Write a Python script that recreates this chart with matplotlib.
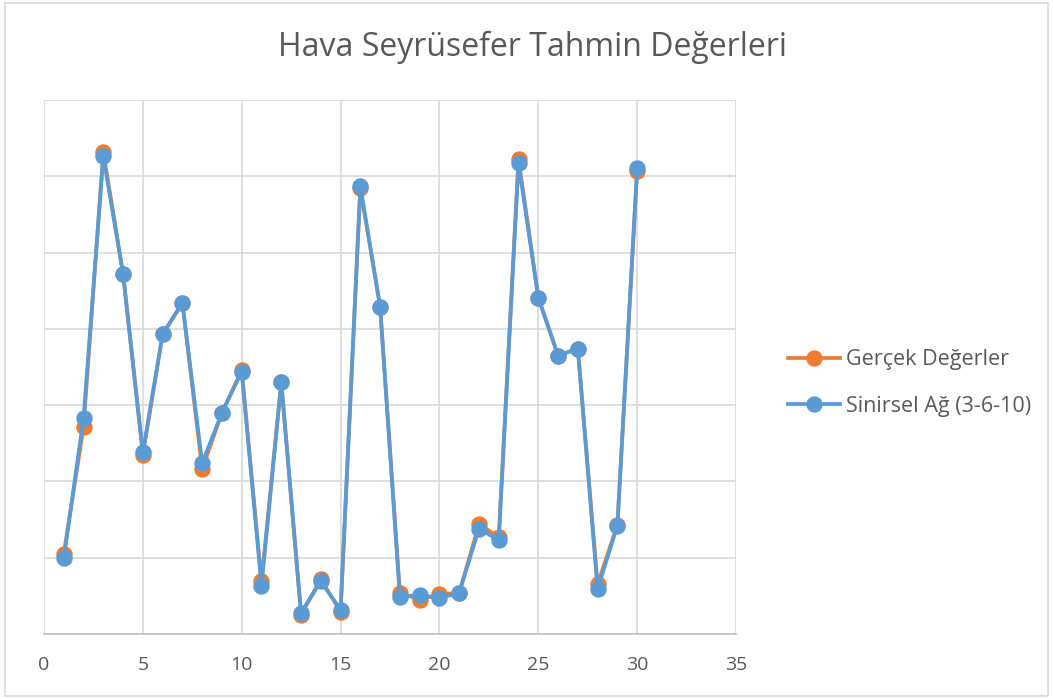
import matplotlib.pyplot as plt
from matplotlib.patches import Rectangle

# x positions (sample index) and values in gridline units (y axis has no labels)
sample = list(range(1, 31))
gercek = [1.05, 2.71, 6.32, 4.72, 2.35, 3.93, 4.34, 2.16, 2.90, 3.46,
          0.69, 3.30, 0.25, 0.72, 0.29, 5.84, 4.29, 0.54, 0.45, 0.52,
          0.54, 1.44, 1.27, 6.23, 4.41, 3.65, 3.74, 0.65, 1.43, 6.07]
sinirsel = [0.99, 2.83, 6.26, 4.72, 2.38, 3.93, 4.34, 2.24, 2.90, 3.44,
            0.63, 3.30, 0.28, 0.69, 0.32, 5.87, 4.29, 0.49, 0.51, 0.47,
            0.54, 1.38, 1.23, 6.17, 4.41, 3.65, 3.74, 0.59, 1.42, 6.11]

plt.rcParams['font.family'] = ['Open Sans', 'DejaVu Sans']

fig = plt.figure(figsize=(10.53, 6.99), dpi=100)
ax = fig.add_axes([44 / 1053, 1 - 634 / 699, (736 - 44) / 1053, (634 - 100) / 699])

ax.plot(sample, gercek, color='#ED7D31', lw=2.7, marker='o', ms=10.8,
        label='Gerçek Değerler', zorder=3)
ax.plot(sample, sinirsel, color='#5B9BD5', lw=2.7, marker='o', ms=10.8,
        label='Sinirsel Ağ (3-6-10)', zorder=4)

ax.set_xlim(0, 35)
ax.set_ylim(0, 7)
ax.set_xticks(range(0, 36, 5))
ax.set_yticks(range(0, 8))
ax.set_yticklabels([])
ax.grid(True, color='#D9D9D9', lw=1.2, zorder=0)
ax.set_axisbelow(True)
for s in ['top', 'right', 'left']:
    ax.spines[s].set_visible(False)
ax.spines['bottom'].set_color('#BFBFBF')
ax.spines['bottom'].set_linewidth(1.2)
ax.tick_params(axis='both', length=0, labelsize=14, labelcolor='#595959', pad=16)

fig.text(532 / 1053, 1 - 47 / 699, 'Hava Seyrüsefer Tahmin Değerleri',
         ha='center', va='center', fontsize=23, color='#595959')

fig.legend(loc='center left', bbox_to_anchor=(788 / 1053, 1 - 383 / 699),
           frameon=False, fontsize=15.5, labelcolor='#595959',
           borderpad=0, borderaxespad=0,
           handlelength=2.4, handletextpad=0.3, labelspacing=1.2)

fig.patches.append(Rectangle((5 / 1053, 3 / 699), 1043 / 1053, 693 / 699,
                             transform=fig.transFigure, fill=False,
                             edgecolor='#D9D9D9', lw=1.2))

fig.savefig('out.png', dpi=100)
